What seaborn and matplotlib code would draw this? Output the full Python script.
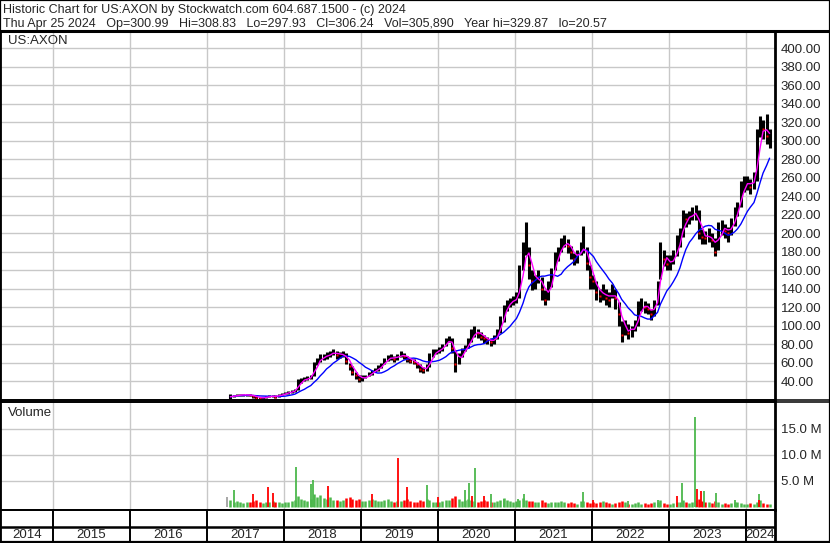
import pandas as pd
import numpy as np
import matplotlib
matplotlib.use('Agg')
import matplotlib.pyplot as plt
from matplotlib.lines import Line2D
import seaborn as sns

# Semi-monthly bars (1st / 15th), Apr 2017 .. Apr 2024
close_2017 = [23, 24, 25, 25, 25, 25, 24.5, 24, 22, 21.5, 22, 23, 23.5, 24, 23, 25, 26]
hi_2017 = [26, 25, 26.5, 26, 26, 26, 25.5, 25, 24, 23, 23, 24, 24.5, 25, 24.5, 26, 27]
lo_2017 = [21, 22.5, 23.5, 24, 24, 24, 23.5, 22, 21, 20.6, 21, 22, 22.5, 23, 22, 23, 25]

close_2018 = [27, 28, 29, 30, 40, 41, 42, 43, 45, 58, 62, 66, 66, 68, 70, 72, 68, 68, 70, 62, 56, 50, 46, 42]
hi_2018 = [28, 29.5, 30.5, 31, 42, 43, 44, 45, 47, 61, 65, 69, 69, 71, 73, 75, 72, 71, 73, 70, 60, 56, 50, 47]
lo_2018 = [25.5, 26.5, 27.5, 28.5, 30, 38, 40, 41, 42, 45, 57, 61, 63, 64, 66, 68, 64, 65, 66, 58, 52, 46, 42, 39]

close_2019 = [43, 45, 48, 50, 52, 54, 58, 63, 65, 66, 64, 67, 69, 67, 64, 62, 61, 58, 53, 52, 55, 66, 72, 72]
hi_2019 = [46, 47, 50, 52, 54, 57, 60, 65, 68, 69, 67, 69, 72, 70, 67, 65, 64, 61, 58, 55, 58, 70, 75, 75]
lo_2019 = [40, 43, 45, 47, 50, 51, 54, 58, 62, 63, 61, 63, 66, 64, 61, 59, 58, 54, 50, 49, 51, 55, 66, 69]

close_2020 = [74, 78, 84, 86, 76, 58, 66, 72, 76, 82, 92, 94, 92, 88, 86, 84, 82, 86, 92, 106, 118, 124, 126, 128]
hi_2020 = [77, 80, 86, 89, 86, 74, 70, 76, 79, 86, 96, 100, 96, 93, 90, 88, 86, 90, 96, 110, 122, 128, 130, 132]
lo_2020 = [70, 73, 78, 82, 70, 50, 58, 66, 72, 76, 82, 88, 86, 84, 81, 80, 78, 80, 85, 92, 104, 116, 120, 122]

close_2021 = [130, 150, 180, 190, 165, 148, 148, 155, 140, 128, 140, 155, 175, 178, 188, 192, 186, 180, 172, 176, 184, 188, 168, 152]
hi_2021 = [136, 165, 190, 212, 185, 160, 155, 160, 152, 138, 148, 162, 180, 185, 195, 198, 194, 186, 178, 182, 190, 208, 185, 165]
lo_2021 = [124, 130, 160, 176, 150, 138, 140, 146, 128, 122, 128, 142, 160, 170, 180, 185, 178, 172, 165, 168, 176, 178, 160, 140]

close_2022 = [148, 136, 132, 138, 130, 128, 138, 130, 112, 90, 100, 92, 96, 100, 118, 124, 120, 118, 112, 122, 140, 182, 172, 166]
hi_2022 = [155, 148, 140, 145, 140, 136, 145, 140, 125, 105, 106, 102, 100, 106, 126, 130, 126, 124, 118, 128, 148, 190, 182, 176]
lo_2022 = [140, 128, 125, 128, 122, 120, 130, 118, 100, 82, 90, 85, 88, 94, 100, 116, 114, 112, 106, 110, 122, 150, 164, 160]

close_2023 = [168, 175, 190, 196, 218, 215, 218, 222, 224, 200, 196, 195, 198, 192, 180, 205, 208, 202, 200, 210, 222, 228, 250, 255]
hi_2023 = [176, 182, 198, 205, 225, 222, 224, 228, 230, 225, 204, 202, 205, 200, 195, 212, 214, 210, 206, 216, 228, 234, 256, 262]
lo_2023 = [160, 166, 175, 185, 196, 206, 210, 214, 214, 194, 188, 188, 190, 185, 175, 182, 198, 195, 190, 198, 208, 218, 228, 244]

close_2024 = [255, 250, 258, 300, 318, 312, 305, 306]
hi_2024 = [262, 258, 266, 312, 326, 322, 329, 312]
lo_2024 = [246, 242, 248, 256, 304, 302, 296, 292]

# typical daily volume per half month (millions)
vol_2017 = [1.2, 0.9, 1.0, 0.8, 0.7, 0.9, 0.8, 1.0, 1.2, 0.9, 0.7, 0.8, 0.9, 1.1, 0.8, 0.9, 0.7]
vol_2018 = [0.8, 0.9, 1.1, 1.2, 2.0, 1.4, 1.2, 1.0, 1.5, 2.4, 1.8, 2.2, 1.6, 1.4, 1.8, 1.3, 1.2, 1.1, 1.3, 1.6, 1.8, 1.4, 1.2, 1.5]
vol_2019 = [1.1, 1.0, 1.2, 1.4, 1.3, 1.0, 1.1, 1.2, 1.4, 1.0, 0.9, 1.1, 1.0, 1.3, 1.5, 1.0, 0.9, 0.8, 1.2, 1.0, 1.4, 1.3, 0.9, 0.8]
vol_2020 = [0.9, 1.0, 1.2, 1.3, 1.6, 2.0, 1.4, 1.1, 1.3, 1.5, 1.2, 1.0, 0.9, 1.1, 1.3, 1.0, 0.9, 0.8, 1.0, 1.2, 1.6, 1.2, 1.0, 0.9]
vol_2021 = [1.1, 1.2, 1.6, 1.3, 1.1, 1.0, 0.8, 0.9, 1.2, 0.9, 0.7, 0.8, 0.9, 0.8, 1.0, 0.9, 0.7, 0.8, 0.7, 0.6, 1.0, 1.1, 0.8, 0.7]
vol_2022 = [0.8, 0.7, 0.9, 1.0, 0.8, 0.7, 0.6, 0.7, 0.9, 1.0, 0.8, 0.6, 0.5, 0.7, 0.9, 0.6, 0.7, 0.6, 0.7, 0.8, 0.9, 1.2, 0.7, 0.6]
vol_2023 = [0.6, 0.7, 0.8, 0.9, 1.2, 0.8, 0.7, 0.8, 1.3, 1.4, 1.1, 0.9, 0.8, 0.7, 1.0, 0.9, 0.6, 0.7, 0.6, 0.7, 0.9, 0.8, 0.7, 0.6]
vol_2024 = [0.6, 0.7, 0.6, 0.8, 1.2, 0.7, 0.6, 0.5]

# single-day volume spikes
spike_dates = ['2017-04-04', '2017-05-08', '2017-08-08', '2017-10-16', '2017-11-10',
               '2018-03-01', '2018-05-08', '2018-05-18', '2018-07-31', '2019-02-21',
               '2019-06-28', '2019-08-09', '2019-11-08', '2020-01-03', '2020-05-08',
               '2020-05-26', '2020-06-12', '2020-06-26', '2020-08-07', '2020-09-09',
               '2020-11-10', '2021-01-15', '2021-02-12', '2021-11-18', '2022-01-04',
               '2022-06-21', '2022-11-09', '2023-02-07', '2023-03-03', '2023-05-05',
               '2023-05-12', '2023-06-02', '2023-06-14', '2023-08-11', '2023-11-10',
               '2024-03-01', '2024-03-05']
spike_vol = [1.9, 3.2, 2.5, 3.7, 2.6, 7.6, 4.4, 5.2, 3.9, 2.5, 9.4, 3.7, 4.1, 1.9, 3.2,
             4.6, 2.1, 7.4, 2.1, 2.4, 1.5, 1.5, 2.5, 2.8, 1.3, 1.1, 1.3, 2.1, 4.6, 17.2,
             3.4, 3.1, 3.1, 2.6, 1.3, 2.4, 1.3]
spike_up = [None, 1, 0, 0, 0, 1, 1, 1, 0, 0, 0, 0, 1, 0, 1, 1, 0, 1, 0, 1, 1, 1, 1, 1, 0,
            1, 1, 0, 1, 1, 0, 0, 1, 1, 1, 1, 0]

price_ticks = list(range(40, 401, 20))
vol_ticks = [5, 10, 15]
year_labels = ['2014', '2015', '2016', '2017', '2018', '2019', '2020', '2021', '2022', '2023', '2024']

header1 = 'Historic Chart for US:AXON by Stockwatch.com 604.687.1500 - (c) 2024'
header2 = ('Thu Apr 25 2024   Op=300.99   Hi=308.83   Lo=297.93   Cl=306.24   '
           'Vol=305,890   Year hi=329.87   lo=20.57')


def dec_year(s):
    return s.dt.year + (s.dt.dayofyear - 1) / 365.25


close = close_2017 + close_2018 + close_2019 + close_2020 + close_2021 + close_2022 + close_2023 + close_2024
hi = hi_2017 + hi_2018 + hi_2019 + hi_2020 + hi_2021 + hi_2022 + hi_2023 + hi_2024
lo = lo_2017 + lo_2018 + lo_2019 + lo_2020 + lo_2021 + lo_2022 + lo_2023 + lo_2024
vol = vol_2017 + vol_2018 + vol_2019 + vol_2020 + vol_2021 + vol_2022 + vol_2023 + vol_2024

df = pd.DataFrame({'date': pd.date_range('2017-04-15', periods=len(close), freq='SMS'),
                   'close': close, 'hi': hi, 'lo': lo, 'vol': vol})
df['x'] = dec_year(df['date'] + pd.Timedelta(days=7))
df['ma_short'] = df['close'].rolling(3, min_periods=1).mean()
df['ma_long'] = df['close'].rolling(10, min_periods=1).mean()
df['up'] = df['close'].diff().fillna(0) >= 0

GREEN = '#4cb84c'
RED = '#ff0000'

sp = pd.DataFrame({'date': pd.to_datetime(spike_dates), 'vol': spike_vol})
sp['x'] = dec_year(sp['date'])
sp['col'] = ['#a0a0a0' if u is None else (GREEN if u else RED) for u in spike_up]

sns.set_style('white')
plt.rcParams['font.family'] = ['Liberation Sans', 'DejaVu Sans']
plt.rcParams['font.size'] = 9

W, H = 830, 543
fig = plt.figure(figsize=(W / 100, H / 100), dpi=100)


def box(x0, y0, x1, y1):
    return [x0 / W, 1 - y1 / H, (x1 - x0) / W, (y1 - y0) / H]


ax = fig.add_axes(box(1, 31, 775, 400))
axv = fig.add_axes(box(1, 401.5, 775, 509.5))
axd = fig.add_axes(box(1, 509.5, 775, 542))

xmin, xmax = 2014.325, 2024.377
years = list(range(2015, 2025))
GRID = '#c8c8c8'

# price panel
ax.vlines(df['x'], df['lo'], df['hi'], color='black', lw=2.2)
down = ~df['up']
ax.plot(df['x'][down], df['close'][down], ls='none', marker='s', ms=1.8, mec='none', color=RED)
sns.lineplot(data=df, x='x', y='ma_long', ax=ax, color='#0000ff', lw=1.0)
sns.lineplot(data=df, x='x', y='ma_short', ax=ax, color='#ff00ff', lw=1.0)
ax.set_xlim(xmin, xmax)
ax.set_ylim(19.5, 418.4)
ax.set_xticks(years)
ax.set_xticklabels([])
ax.set_yticks(price_ticks)
ax.set_yticklabels(['%.2f' % v for v in price_ticks])
ax.yaxis.tick_right()
ax.tick_params(axis='both', length=0)
ax.tick_params(axis='y', pad=4, labelsize=9.5)
ax.grid(True, color=GRID, lw=1.0)
ax.set_axisbelow(True)
ax.set_xlabel('')
ax.set_ylabel('')
ax.text(0.009, 0.988, 'US:AXON', transform=ax.transAxes, ha='left', va='top', fontsize=9.5)

# volume panel
axv.vlines(df['x'], 0, df['vol'], colors=[GREEN if u else RED for u in df['up']], lw=1.8)
axv.vlines(sp['x'], 0, sp['vol'], colors=sp['col'], lw=1.3)
axv.set_xlim(xmin, xmax)
axv.set_ylim(-0.55, 20.2)
axv.set_xticks(years)
axv.set_xticklabels([])
axv.set_yticks(vol_ticks)
axv.set_yticklabels(['%.1f M' % v for v in vol_ticks])
axv.yaxis.tick_right()
axv.tick_params(axis='both', length=0)
axv.tick_params(axis='y', pad=4, labelsize=9.5)
axv.grid(True, color=GRID, lw=1.0)
axv.set_axisbelow(True)
axv.text(0.009, 0.95, 'Volume', transform=axv.transAxes, ha='left', va='top', fontsize=9.5)

# date rows
axd.set_xlim(xmin, xmax)
axd.set_ylim(0, 1)
axd.set_xticks([])
axd.set_yticks([])
axd.axhline(0.46, color='black', lw=1.8)
axd.vlines(years, 0, 1, color='black', lw=1.4)
edges = [xmin] + years + [xmax]
for i, lab in enumerate(year_labels):
    axd.text((edges[i] + edges[i + 1]) / 2, 0.2, lab, ha='center', va='center', fontsize=9.5)

for a in (ax, axv, axd):
    for s in a.spines.values():
        s.set_color('black')
        s.set_linewidth(1.3)
    a.spines['right'].set_linewidth(2.0)
    a.patch.set_alpha(0)
axd.spines['bottom'].set_visible(False)

# full-width rules and outer border
for yy, lw in [(30.5, 2.2), (399.8, 1.1), (401.8, 1.1), (541.8, 1.6)]:
    fig.add_artist(Line2D([0, 1], [1 - yy / H] * 2, color='black', lw=lw))
fig.add_artist(plt.Rectangle((0, 0), 1, 1, transform=fig.transFigure, fill=False, ec='black', lw=1.6))

fig.text(3 / W, 1 - 13 / H, header1, ha='left', va='baseline', fontsize=9)
fig.text(3 / W, 1 - 27 / H, header2, ha='left', va='baseline', fontsize=9)

fig.savefig('out.png', dpi=100)
